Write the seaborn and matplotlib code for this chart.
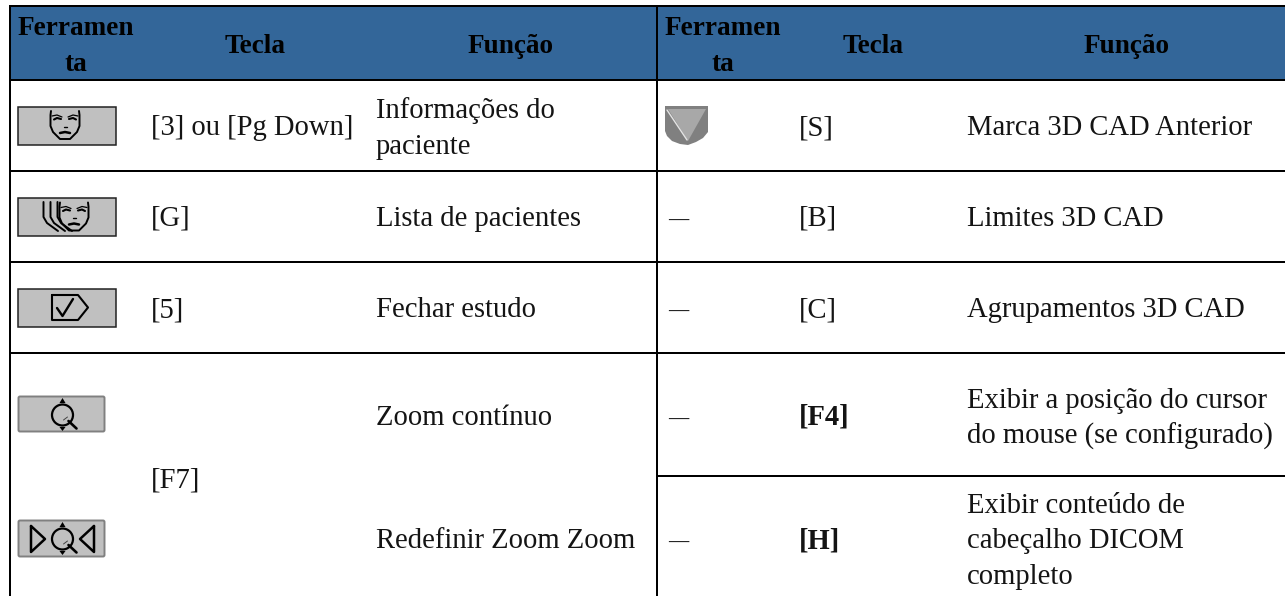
import matplotlib
matplotlib.use("Agg")
import matplotlib.pyplot as plt
from matplotlib.colors import ListedColormap
from matplotlib.patches import Rectangle, Polygon, Circle, FancyBboxPatch
import numpy as np
import seaborn as sns

header_labels = ["Ferramen\nta", "Tecla", "Função", "Ferramen\nta", "Tecla", "Função"]
left_keys = ["[3] ou [Pg Down]", "[G]", "[5]", "[F7]"]
left_funcs = ["Informações do\npaciente", "Lista de pacientes", "Fechar estudo", "Zoom contínuo", "Redefinir Zoom Zoom"]
right_tools = ["—", "—", "—", "—"]
right_keys = ["[S]", "[B]", "[C]", "[F4]", "[H]"]
right_funcs = ["Marca 3D CAD Anterior", "Limites 3D CAD", "Agrupamentos 3D CAD",
               "Exibir a posição do cursor\ndo mouse (se configurado)",
               "Exibir conteúdo de\ncabeçalho DICOM\ncompleto"]

W, H = 1285, 596
HEADER = "#336699"
FS = 20.6
PITCH = 35.5
sns.set_theme(style="white")
plt.rcParams["font.family"] = ["Liberation Serif", "DejaVu Serif"]

fig = plt.figure(figsize=(W / 100, H / 100), dpi=100, facecolor="white")
hax = fig.add_axes([10 / W, 1 - 79 / H, (W - 10) / W, 73 / H])
sns.heatmap(np.zeros((1, 1)), ax=hax, cmap=ListedColormap([HEADER]), cbar=False,
            xticklabels=False, yticklabels=False)

ax = fig.add_axes([0, 0, 1, 1], facecolor="none")
ax.set_xlim(0, W)
ax.set_ylim(H, 0)
ax.axis("off")

LW = 2.0 * 72 / 100
def hl(y, x0=9, x1=W): ax.plot([x0, x1], [y, y], color="black", lw=LW, solid_capstyle="butt")
def vl(x, y0=5, y1=H): ax.plot([x, x], [y0, y1], color="black", lw=LW, solid_capstyle="butt")
hl(6); hl(79.5); hl(170.5); hl(261.5); hl(352.5); hl(475.5, 657)
vl(10); vl(657)

def txt(x, y, s, pitch=PITCH, color="#141414", fs=FS, **k):
    for i, line in enumerate(s.split("\n")):
        ax.text(x, y + i * pitch, line, fontsize=fs, va="baseline", color=color, **k)

for x, y, s in zip([75.5, 255, 511, 722.5, 873, 1127], [35, 53, 53, 35, 53, 53], header_labels):
    txt(x, y, s, pitch=36, color="black", fs=19.6, ha="center", fontweight="bold")

for y, s in zip([135, 226, 317, 488], left_keys):
    txt(151, y, s)
for y, s in zip([118, 226, 317, 425, 548], left_funcs):
    txt(376, y, s)
for y, s in zip([226, 317, 425, 548], right_tools):
    txt(668, y, s, fs=14.6, fontweight="bold")
for y, s, b in zip([135, 226, 317, 425, 548], right_keys, [0, 0, 0, 1, 1]):
    txt(798.5, y, s, fontweight="bold" if b else "normal")
for y, s in zip([135, 226, 317, 408, 513], right_funcs):
    txt(967, y, s)

def button(x0, y0, x1, y1, edge="#222222", lw=1.1, rounded=False):
    if rounded:
        ax.add_patch(FancyBboxPatch((x0, y0), x1 - x0, y1 - y0, boxstyle="round,pad=0,rounding_size=1.5",
                                    fc="#c0c0c0", ec=edge, lw=lw))
    else:
        ax.add_patch(Rectangle((x0, y0), x1 - x0, y1 - y0, fc="#c0c0c0", ec=edge, lw=lw))

def face(cx, cy):
    xs = np.array([-14, -14.5, -14.5, -12, -5, 5, 12, 14.5, 14.5, 14])
    ys = np.array([-14, -10, 1, 7, 14, 14, 7, 1, -10, -14])
    ax.plot(cx + xs, cy + ys, color="black", lw=1.4)
    for sx in (-1, 1):
        ax.plot(cx + sx * np.array([3, 8, 13]), cy + np.array([-8, -10, -9]), color="black", lw=0.9)
        ax.plot(cx + sx * np.array([4, 8, 11]), cy + np.array([-6, -7, -5.5]), color="black", lw=1.5)
    ax.plot(cx + np.array([-1.5, 1.5]), cy + np.array([1.5, 1.5]), color="black", lw=1.0)
    ax.plot(cx + np.array([-5, 0, 5]), cy + np.array([8, 7, 8]), color="black", lw=1.8)

button(17.5, 106.5, 115.5, 144.5)
face(65, 125)
button(17.5, 197.5, 115.5, 235.5)
face(74, 216.5)
for dx in (0, 7, 14):
    ax.plot(np.array([43.5, 43.5, 47, 58]) + dx, [202, 217, 223, 231], color="black", lw=1.4)
button(17.5, 288.5, 115.5, 326.5)
ax.plot([52, 52, 78, 88, 78, 52], [295, 320, 320, 307.5, 295, 295], color="black", lw=1.5)
ax.plot([57, 62.5, 73], [308, 316, 299], color="black", lw=1.7)

def lens(cx, cy):
    ax.add_patch(Circle((cx, cy), 10.5, fc="none", ec="black", lw=1.6))
    ax.plot([cx + 6, cx + 14], [cy + 6, cy + 13.5], color="black", lw=1.9)
    ax.plot([cx + 1, cx + 5], [cy + 5, cy + 2], color="#444444", lw=0.7)
    ax.add_patch(Polygon([[cx - 3, cy - 12], [cx + 3, cy - 12], [cx, cy - 17]], fc="black", ec="none"))
    ax.add_patch(Polygon([[cx - 3, cy + 12], [cx + 3, cy + 12], [cx, cy + 16]], fc="black", ec="none"))

button(18.5, 396.5, 104.5, 431.5, edge="#808080", lw=1.4, rounded=True)
lens(62.5, 415)
button(18.5, 520.5, 104.5, 556.5, edge="#808080", lw=1.4, rounded=True)
lens(62.5, 539)
ax.plot([31, 45, 31, 31], [526, 539, 552, 526], color="black", lw=1.8)
ax.plot([94, 80, 94, 94], [526, 539, 552, 526], color="black", lw=1.8)

ax.add_patch(Polygon([[665, 106], [708, 106], [708, 132], [703, 138], [696, 142], [688, 145],
                      [680, 144], [672, 141], [667, 136], [665, 131]], fc="#808080", ec="none"))
ax.add_patch(Polygon([[668, 109], [706, 109], [688, 141]], fc="#a8a8a8", ec="none"))
ax.plot([667, 687], [110, 140], color="#e4e4e4", lw=1.0)

fig.savefig("out.png", dpi=100)
